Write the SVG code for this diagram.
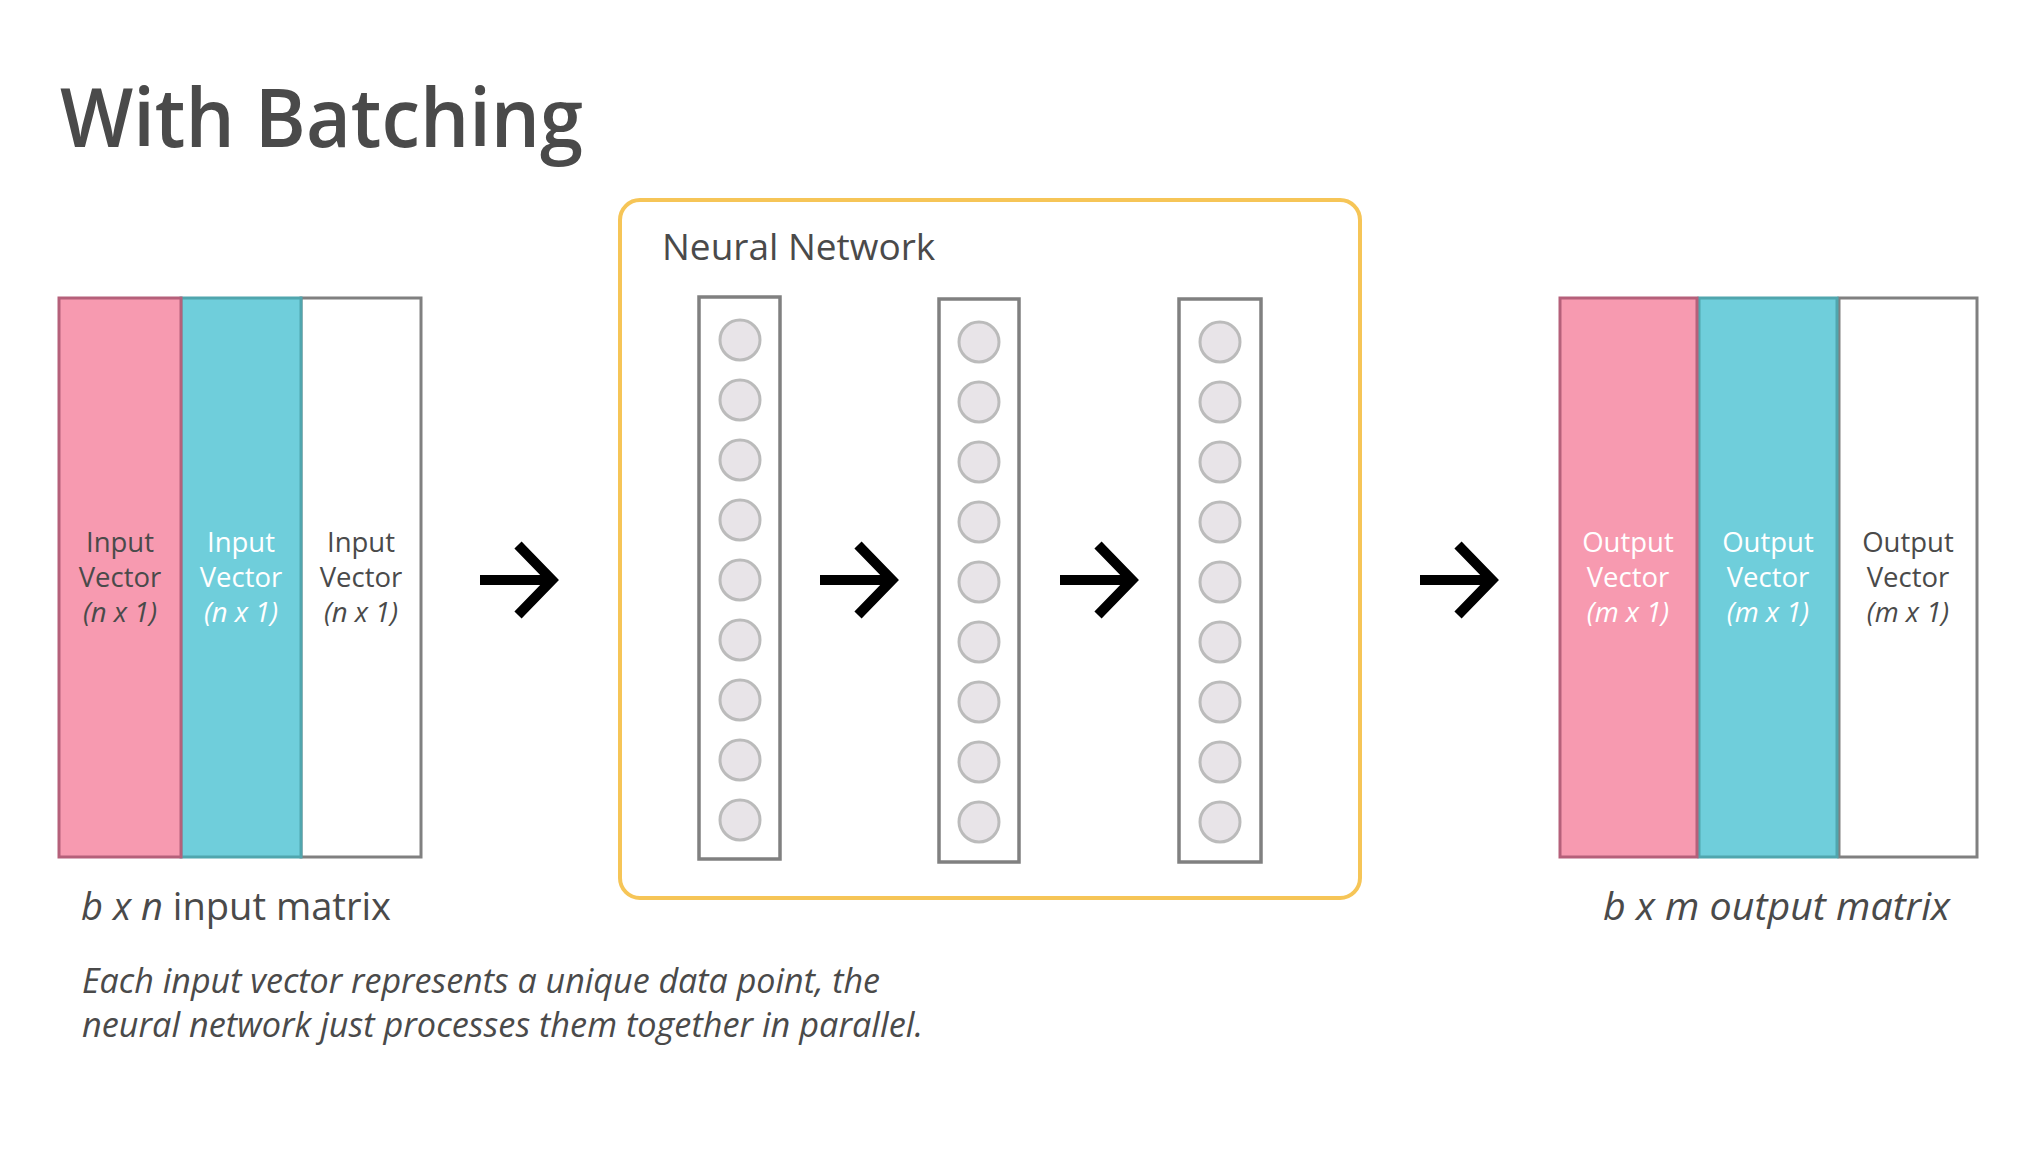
<svg xmlns="http://www.w3.org/2000/svg" xmlns:xlink="http://www.w3.org/1999/xlink" width="2021" height="1152" viewBox="0 0 2021 1152">
<style>
text { font-family: "Open Sans", "Noto Sans", "Liberation Sans", sans-serif; fill: #4a4a4a; }
.title { font-size: 82px; font-weight: 600; }
.sub { font-size: 38px; }
.lbl { font-size: 27.5px; text-anchor: middle; }
.it { font-style: italic; }
.w { fill: #ffffff; }
.pink { fill: #f79ab0; stroke: #b5607a; stroke-width: 3; }
.cyan { fill: #6fcedb; stroke: #50a6ae; stroke-width: 3; }
.white { fill: #ffffff; stroke: #808080; stroke-width: 3; }
.layer { fill: #ffffff; stroke: #808080; stroke-width: 3.5; }
.node { fill: #e8e4e8; stroke: #bbbbbb; stroke-width: 3; }
.arrow { fill: none; stroke: #000000; stroke-width: 10; stroke-linejoin: miter; stroke-miterlimit: 10; }
.cap { font-size: 34px; font-style: italic; }
</style>
<defs>
<g id="arr">
<line class="arrow" x1="0" y1="0" x2="74" y2="0"/>
<polyline class="arrow" points="38,-35 72,0 38,35"/>
</g>
<g id="col">
<circle class="node" cx="0" cy="0" r="20"/>
<circle class="node" cx="0" cy="60" r="20"/>
<circle class="node" cx="0" cy="120" r="20"/>
<circle class="node" cx="0" cy="180" r="20"/>
<circle class="node" cx="0" cy="240" r="20"/>
<circle class="node" cx="0" cy="300" r="20"/>
<circle class="node" cx="0" cy="360" r="20"/>
<circle class="node" cx="0" cy="420" r="20"/>
<circle class="node" cx="0" cy="480" r="20"/>
</g>
</defs>
<rect width="2021" height="1152" fill="#ffffff"/>
<text class="title" x="60" y="147" textLength="523" lengthAdjust="spacingAndGlyphs">With Batching</text>

<g id="input-matrix">
<g id="input-3">
<rect class="white" x="301" y="298" width="120" height="559"/>
<text class="lbl" x="361" y="552">Input</text>
<text class="lbl" x="361" y="587">Vector</text>
<text class="lbl it" x="361" y="622">(n x 1)</text>
</g>
<g id="input-2">
<rect class="cyan" x="181" y="298" width="120" height="559"/>
<text class="lbl w" x="241" y="552">Input</text>
<text class="lbl w" x="241" y="587">Vector</text>
<text class="lbl it w" x="241" y="622">(n x 1)</text>
</g>
<g id="input-1">
<rect class="pink" x="59" y="298" width="122" height="559"/>
<text class="lbl" x="120" y="552">Input</text>
<text class="lbl" x="120" y="587">Vector</text>
<text class="lbl it" x="120" y="622">(n x 1)</text>
</g>
<text class="sub" x="81" y="920" textLength="310" lengthAdjust="spacingAndGlyphs"><tspan class="it">b x n </tspan>input matrix</text>
</g>

<g id="neural-network">
<rect x="620" y="200" width="740" height="698" rx="20" fill="none" stroke="#f6c557" stroke-width="4"/>
<text x="662" y="260" style="font-size:37px">Neural Network</text>
<g id="layer-1">
<rect class="layer" x="699" y="297" width="81" height="562"/>
<use xlink:href="#col" href="#col" x="740" y="340"/>
</g>
<g id="layer-2">
<rect class="layer" x="939" y="299" width="80" height="563"/>
<use xlink:href="#col" href="#col" x="979" y="342"/>
</g>
<g id="layer-3">
<rect class="layer" x="1179" y="299" width="82" height="563"/>
<use xlink:href="#col" href="#col" x="1220" y="342"/>
</g>
</g>

<g id="output-matrix">
<g id="output-3">
<rect class="white" x="1839" y="298" width="138" height="559"/>
<text class="lbl" x="1908" y="552">Output</text>
<text class="lbl" x="1908" y="587">Vector</text>
<text class="lbl it" x="1908" y="622">(m x 1)</text>
</g>
<g id="output-2">
<rect class="cyan" x="1699" y="298" width="138" height="559"/>
<text class="lbl w" x="1768" y="552">Output</text>
<text class="lbl w" x="1768" y="587">Vector</text>
<text class="lbl it w" x="1768" y="622">(m x 1)</text>
</g>
<g id="output-1">
<rect class="pink" x="1560" y="298" width="137" height="559"/>
<text class="lbl w" x="1628" y="552">Output</text>
<text class="lbl w" x="1628" y="587">Vector</text>
<text class="lbl it w" x="1628" y="622">(m x 1)</text>
</g>
<text class="sub it" x="1603" y="920" textLength="347" lengthAdjust="spacingAndGlyphs">b x m output matrix</text>
</g>

<g id="connectors">
<use xlink:href="#arr" href="#arr" x="480" y="580"/>
<use xlink:href="#arr" href="#arr" x="820" y="580"/>
<use xlink:href="#arr" href="#arr" x="1060" y="580"/>
<use xlink:href="#arr" href="#arr" x="1420" y="580"/>
</g>

<g id="caption">
<text class="cap" x="82" y="993" textLength="798" lengthAdjust="spacingAndGlyphs">Each input vector represents a unique data point, the</text>
<text class="cap" x="82" y="1037" textLength="841" lengthAdjust="spacingAndGlyphs">neural network just processes them together in parallel.</text>
</g>
</svg>
